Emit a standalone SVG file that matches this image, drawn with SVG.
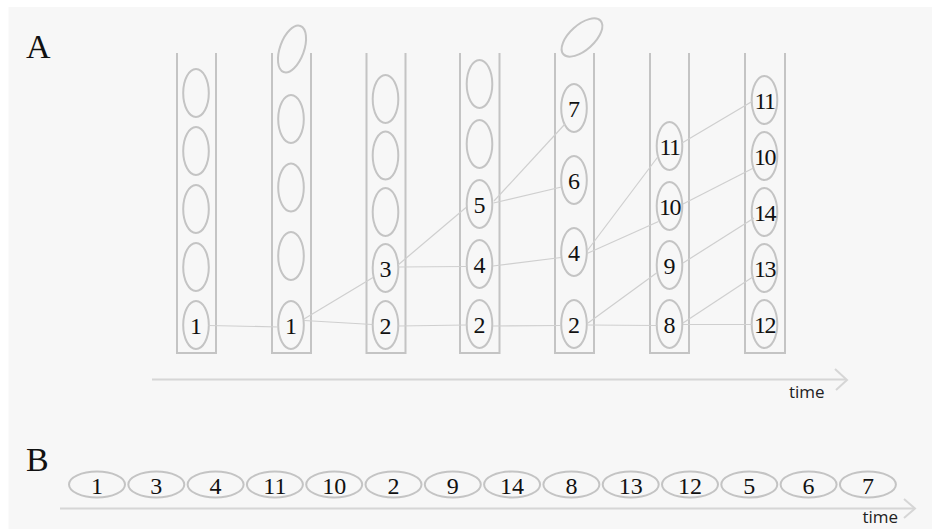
<svg xmlns="http://www.w3.org/2000/svg" width="932" height="529" viewBox="0 0 932 529">
<style>
.tube{fill:none;stroke:#c4c4c4;stroke-width:2}
.slot{fill:none;stroke:#c4c4c4;stroke-width:2}
.n{font-family:"Liberation Serif","Times New Roman",serif;font-size:24px;fill:#111;text-anchor:middle}
.n2{font-family:"Liberation Serif","Times New Roman",serif;font-size:24px;fill:#111;text-anchor:middle;letter-spacing:-1.5px}
.lbl{font-family:"Liberation Serif","Times New Roman",serif;font-size:34px;fill:#111}
.t{font-family:"Open Sans","Liberation Sans",sans-serif;font-size:17px;fill:#222}
.c line{stroke:#cfcfcf;stroke-width:1.2}
.axis{stroke:#d6d6d6;stroke-width:2;fill:none}
</style>
<rect x="0" y="0" width="932" height="529" fill="#ffffff"/>
<rect x="8.5" y="7" width="923.5" height="522" fill="#f7f7f7"/>
<text class="lbl" x="26" y="57.5">A</text>
<text class="lbl" x="26" y="470.5">B</text>

<g id="tube1">
<path class="tube" d="M177 53 V353 H216 V53"/>
<ellipse class="slot" cx="196" cy="93" rx="12.8" ry="24"/>
<ellipse class="slot" cx="196" cy="151" rx="12.8" ry="24"/>
<ellipse class="slot" cx="196" cy="209" rx="12.8" ry="24"/>
<ellipse class="slot" cx="196" cy="267" rx="12.8" ry="24"/>
<ellipse class="slot" cx="196" cy="325" rx="12.8" ry="24"/>
<text class="n" x="196" y="334">1</text>
</g>
<g id="tube2">
<path class="tube" d="M272 53 V353 H311 V53"/>
<ellipse class="slot" cx="0" cy="0" rx="12" ry="24.5" transform="translate(292 49) rotate(20)"/>
<ellipse class="slot" cx="291" cy="119" rx="12.8" ry="24"/>
<ellipse class="slot" cx="291" cy="187.5" rx="12.8" ry="24"/>
<ellipse class="slot" cx="291" cy="256" rx="12.8" ry="24"/>
<ellipse class="slot" cx="291" cy="325" rx="12.8" ry="24"/>
<text class="n" x="291" y="334">1</text>
</g>
<g id="tube3">
<path class="tube" d="M366.5 53 V353 H405.5 V53"/>
<ellipse class="slot" cx="385.5" cy="99" rx="12.8" ry="24"/>
<ellipse class="slot" cx="385.5" cy="155.5" rx="12.8" ry="24"/>
<ellipse class="slot" cx="385.5" cy="212" rx="12.8" ry="24"/>
<ellipse class="slot" cx="385.5" cy="268" rx="12.8" ry="24"/>
<ellipse class="slot" cx="385.5" cy="325" rx="12.8" ry="24"/>
<text class="n" x="385.5" y="277">3</text>
<text class="n" x="385.5" y="334">2</text>
</g>
<g id="tube4">
<path class="tube" d="M460 53 V353 H499.5 V53"/>
<ellipse class="slot" cx="479.5" cy="84" rx="12.8" ry="24"/>
<ellipse class="slot" cx="479.5" cy="144" rx="12.8" ry="24"/>
<ellipse class="slot" cx="479.5" cy="204" rx="12.8" ry="24"/>
<ellipse class="slot" cx="479.5" cy="264" rx="12.8" ry="24"/>
<ellipse class="slot" cx="479.5" cy="324" rx="12.8" ry="24"/>
<text class="n" x="479.5" y="213">5</text>
<text class="n" x="479.5" y="273">4</text>
<text class="n" x="479.5" y="333">2</text>
</g>
<g id="tube5">
<path class="tube" d="M555 53 V353 H594 V53"/>
<ellipse class="slot" cx="0" cy="0" rx="12.5" ry="25" transform="translate(582 37.5) rotate(48)"/>
<ellipse class="slot" cx="574" cy="108" rx="12.8" ry="24"/>
<ellipse class="slot" cx="574" cy="180" rx="12.8" ry="24"/>
<ellipse class="slot" cx="574" cy="252" rx="12.8" ry="24"/>
<ellipse class="slot" cx="574" cy="324" rx="12.8" ry="24"/>
<text class="n" x="574" y="117">7</text>
<text class="n" x="574" y="189">6</text>
<text class="n" x="574" y="261">4</text>
<text class="n" x="574" y="333">2</text>
</g>
<g id="tube6">
<path class="tube" d="M650 53 V353 H689 V53"/>
<ellipse class="slot" cx="669.5" cy="146" rx="12.8" ry="24"/>
<ellipse class="slot" cx="669.5" cy="206" rx="12.8" ry="24"/>
<ellipse class="slot" cx="669.5" cy="265" rx="12.8" ry="24"/>
<ellipse class="slot" cx="669.5" cy="324" rx="12.8" ry="24"/>
<text class="n2" x="669.5" y="155">11</text>
<text class="n2" x="669.5" y="215">10</text>
<text class="n" x="669.5" y="274">9</text>
<text class="n" x="669.5" y="333">8</text>
</g>
<g id="tube7">
<path class="tube" d="M745 53 V353 H785 V53"/>
<ellipse class="slot" cx="764.5" cy="100" rx="12.8" ry="24"/>
<ellipse class="slot" cx="764.5" cy="156" rx="12.8" ry="24"/>
<ellipse class="slot" cx="764.5" cy="212" rx="12.8" ry="24"/>
<ellipse class="slot" cx="764.5" cy="268" rx="12.8" ry="24"/>
<ellipse class="slot" cx="764.5" cy="324" rx="12.8" ry="24"/>
<text class="n2" x="764.5" y="109">11</text>
<text class="n2" x="764.5" y="165">10</text>
<text class="n2" x="764.5" y="221">14</text>
<text class="n2" x="764.5" y="277">13</text>
<text class="n2" x="764.5" y="333">12</text>
</g>

<g id="connectors" class="c">
<line x1="208.5" y1="325.5" x2="278.5" y2="327"/>
<line x1="304" y1="319" x2="373" y2="277.5"/>
<line x1="304" y1="320.5" x2="372.5" y2="324.5"/>
<line x1="398" y1="265" x2="466" y2="207.5"/>
<line x1="398.5" y1="267" x2="466.5" y2="266.5"/>
<line x1="398.5" y1="326" x2="466.5" y2="325"/>
<line x1="494" y1="201" x2="565" y2="124"/>
<line x1="493.5" y1="203" x2="561.5" y2="187"/>
<line x1="493" y1="266" x2="561" y2="257.5"/>
<line x1="493" y1="326" x2="561" y2="325.5"/>
<line x1="587" y1="251" x2="658.5" y2="156"/>
<line x1="587" y1="253.5" x2="658.5" y2="221.5"/>
<line x1="588" y1="323" x2="656.5" y2="273"/>
<line x1="588" y1="325" x2="656.5" y2="325.5"/>
<line x1="682" y1="143" x2="752" y2="101.5"/>
<line x1="683" y1="204" x2="753.5" y2="168"/>
<line x1="683" y1="263" x2="754" y2="218"/>
<line x1="683" y1="323" x2="753.5" y2="276.5"/>
<line x1="683" y1="324.5" x2="752" y2="324.5"/>
</g>

<g id="axisA">
<line class="axis" x1="152" y1="379.5" x2="846" y2="379.5"/>
<polyline class="axis" points="835,369 847,380 836,390"/>
<text class="t" x="789" y="397.5">time</text>
</g>

<g id="rowB">
<g id="b1"><ellipse class="slot" cx="97" cy="484.5" rx="28" ry="13"/><text class="n" x="97" y="493.5">1</text></g>
<g id="b2"><ellipse class="slot" cx="156.3" cy="484.5" rx="28" ry="13"/><text class="n" x="156.3" y="493.5">3</text></g>
<g id="b3"><ellipse class="slot" cx="215.6" cy="484.5" rx="28" ry="13"/><text class="n" x="215.6" y="493.5">4</text></g>
<g id="b4"><ellipse class="slot" cx="274.9" cy="484.5" rx="28" ry="13"/><text class="n" x="274.9" y="493.5">11</text></g>
<g id="b5"><ellipse class="slot" cx="334.2" cy="484.5" rx="28" ry="13"/><text class="n" x="334.2" y="493.5">10</text></g>
<g id="b6"><ellipse class="slot" cx="393.5" cy="484.5" rx="28" ry="13"/><text class="n" x="393.5" y="493.5">2</text></g>
<g id="b7"><ellipse class="slot" cx="452.8" cy="484.5" rx="28" ry="13"/><text class="n" x="452.8" y="493.5">9</text></g>
<g id="b8"><ellipse class="slot" cx="512.1" cy="484.5" rx="28" ry="13"/><text class="n" x="512.1" y="493.5">14</text></g>
<g id="b9"><ellipse class="slot" cx="571.4" cy="484.5" rx="28" ry="13"/><text class="n" x="571.4" y="493.5">8</text></g>
<g id="b10"><ellipse class="slot" cx="630.7" cy="484.5" rx="28" ry="13"/><text class="n" x="630.7" y="493.5">13</text></g>
<g id="b11"><ellipse class="slot" cx="690" cy="484.5" rx="28" ry="13"/><text class="n" x="690" y="493.5">12</text></g>
<g id="b12"><ellipse class="slot" cx="749.3" cy="484.5" rx="28" ry="13"/><text class="n" x="749.3" y="493.5">5</text></g>
<g id="b13"><ellipse class="slot" cx="808.6" cy="484.5" rx="28" ry="13"/><text class="n" x="808.6" y="493.5">6</text></g>
<g id="b14"><ellipse class="slot" cx="867.9" cy="484.5" rx="28" ry="13"/><text class="n" x="867.9" y="493.5">7</text></g>
</g>

<g id="axisB">
<line class="axis" x1="60" y1="508.5" x2="914" y2="508.5"/>
<polyline class="axis" points="904,499 915,508.5 904,518"/>
<text class="t" x="862.5" y="523">time</text>
</g>
</svg>
